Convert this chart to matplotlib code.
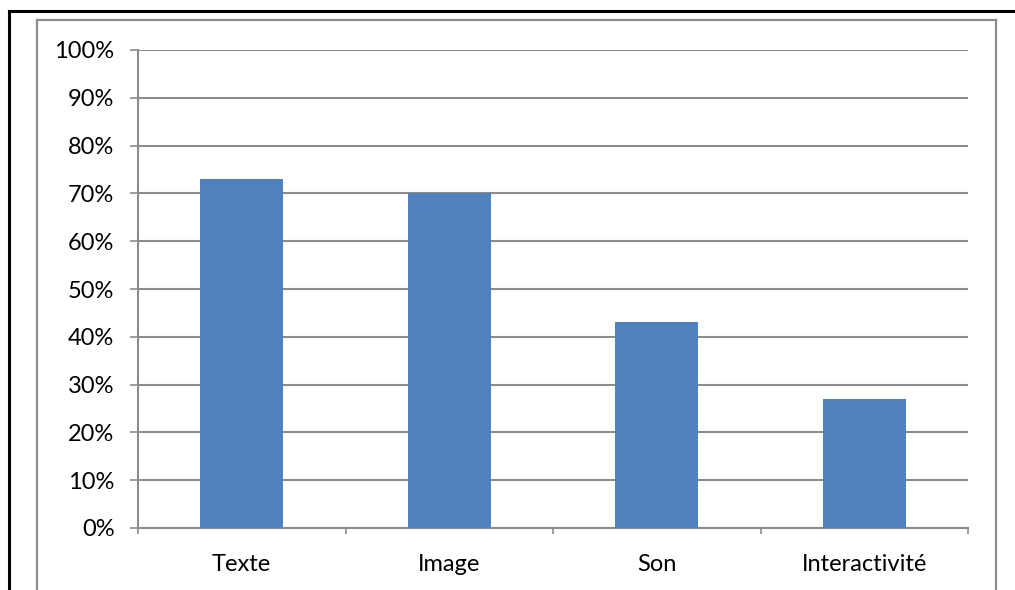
import matplotlib.pyplot as plt
from matplotlib.lines import Line2D
from matplotlib.ticker import PercentFormatter

categories = ["Texte", "Image", "Son", "Interactivité"]
values = [0.73, 0.70, 0.43, 0.27]
yticks = [0, 0.1, 0.2, 0.3, 0.4, 0.5, 0.6, 0.7, 0.8, 0.9, 1.0]

W, H = 1015, 590
plt.rcParams["font.family"] = ["Lato", "DejaVu Sans"]

fig = plt.figure(figsize=(W / 100, H / 100), dpi=100)
ax = fig.add_axes([138 / W, 1 - 528 / H, (968 - 138) / W, (528 - 50) / H])

x = list(range(len(categories)))
ax.bar(x, values, width=0.4, color="#4F81BD", zorder=3)
ax.set_xlim(-0.5, len(categories) - 0.5)
ax.set_ylim(0, 1)

ax.set_yticks(yticks)
ax.yaxis.set_major_formatter(PercentFormatter(1.0, decimals=0))
ax.grid(axis="y", color="#8c8c8c", linewidth=1.5, zorder=0)

ax.set_xticks(x)
ax.set_xticklabels(categories)
ax.set_xticks([i - 0.5 for i in range(len(categories) + 1)], minor=True)
ax.tick_params(axis="x", which="major", length=0, pad=19, labelsize=17)
ax.tick_params(axis="x", which="minor", length=4.5, color="#8c8c8c", width=1.2)
ax.tick_params(axis="y", length=6, color="#8c8c8c", width=1.2, pad=11, labelsize=17)

for side in ["top", "right"]:
    ax.spines[side].set_visible(False)
for side in ["left", "bottom"]:
    ax.spines[side].set_color("#8c8c8c")
    ax.spines[side].set_linewidth(1.5)

# outer frames
def fx(px):
    return px / W

def fy(py):
    return 1 - py / H

fig.add_artist(Line2D([fx(9), fx(9)], [fy(11), fy(H)], color="black", linewidth=2.2))
fig.add_artist(Line2D([fx(9), fx(W)], [fy(11), fy(11)], color="black", linewidth=2.2))
gray = "#8c8c8c"
fig.add_artist(Line2D([fx(37), fx(37)], [fy(20), fy(H)], color=gray, linewidth=1.6))
fig.add_artist(Line2D([fx(37), fx(996)], [fy(20), fy(20)], color=gray, linewidth=1.6))
fig.add_artist(Line2D([fx(996), fx(996)], [fy(20), fy(H)], color=gray, linewidth=1.6))

fig.savefig("out.png", dpi=100, facecolor="white")
